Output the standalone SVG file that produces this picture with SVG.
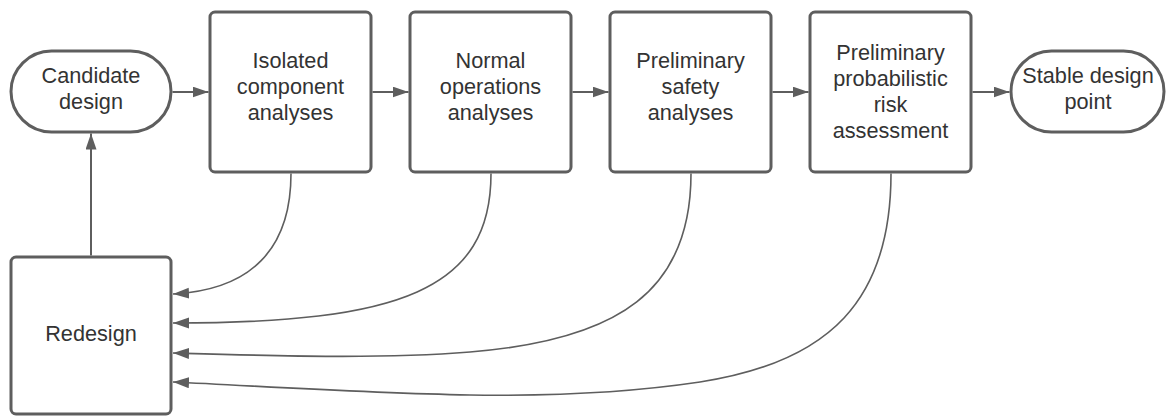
<svg xmlns="http://www.w3.org/2000/svg" width="1166" height="416" viewBox="0 0 1166 416">
  <style>
    .shape { fill: #ffffff; stroke: #5e5e5e; stroke-width: 3; }
    .label { font-family: "Liberation Sans", Arial, sans-serif; font-size: 21.7px; fill: #333333; text-anchor: middle; }
    .conn { fill: none; stroke: #5e5e5e; stroke-width: 2; }
    .curve { fill: none; stroke: #5e5e5e; stroke-width: 1.6; }
  </style>
  <defs>
    <marker id="arrow" markerUnits="userSpaceOnUse" markerWidth="17" markerHeight="12" refX="16" refY="5.5" orient="auto">
      <path d="M0,0 L16,5.5 L0,11 Z" fill="#5e5e5e"/>
    </marker>
  </defs>
  <rect width="1166" height="416" fill="#ffffff"/>

  <g id="connectors">
    <path class="conn" d="M172.5,92 L208.5,92" marker-end="url(#arrow)"/>
    <path class="conn" d="M372.5,92 L408.5,92" marker-end="url(#arrow)"/>
    <path class="conn" d="M572.5,92 L608.5,92" marker-end="url(#arrow)"/>
    <path class="conn" d="M772.5,92 L808.5,92" marker-end="url(#arrow)"/>
    <path class="conn" d="M972.5,92 L1009.5,92" marker-end="url(#arrow)"/>
    <path class="conn" d="M91,255.5 L91,133.5" marker-end="url(#arrow)"/>
    <path class="curve" d="M291,173.5 C291,250 250,290 173,294" marker-end="url(#arrow)"/>
    <path class="curve" d="M491,173.5 C491,290 400,323 173,323" marker-end="url(#arrow)"/>
    <path class="curve" d="M691,173.5 C691,290 620,340 470,352 C380,359.2 280,356 173,353" marker-end="url(#arrow)"/>
    <path class="curve" d="M891,173.5 C891,300 830,362 700,382 C620,394 540,396 470,395 C360,393 260,386 173,382" marker-end="url(#arrow)"/>
  </g>

  <g id="candidate-design">
    <rect class="shape" x="11" y="51" width="160" height="81" rx="40.5" ry="40.5"/>
    <text class="label" x="91" y="83">Candidate</text>
    <text class="label" x="91" y="109">design</text>
  </g>

  <g id="isolated-component-analyses">
    <rect class="shape" x="210" y="12" width="161" height="160" rx="5" ry="5"/>
    <text class="label" x="290.5" y="68">Isolated</text>
    <text class="label" x="290.5" y="94">component</text>
    <text class="label" x="290.5" y="120">analyses</text>
  </g>

  <g id="normal-operations-analyses">
    <rect class="shape" x="410" y="12" width="161" height="160" rx="5" ry="5"/>
    <text class="label" x="490.5" y="68">Normal</text>
    <text class="label" x="490.5" y="94">operations</text>
    <text class="label" x="490.5" y="120">analyses</text>
  </g>

  <g id="preliminary-safety-analyses">
    <rect class="shape" x="610" y="12" width="161" height="160" rx="5" ry="5"/>
    <text class="label" x="690.5" y="68">Preliminary</text>
    <text class="label" x="690.5" y="94">safety</text>
    <text class="label" x="690.5" y="120">analyses</text>
  </g>

  <g id="preliminary-pra">
    <rect class="shape" x="810" y="12" width="161" height="160" rx="5" ry="5"/>
    <text class="label" x="890.5" y="60">Preliminary</text>
    <text class="label" x="890.5" y="86">probabilistic</text>
    <text class="label" x="890.5" y="112">risk</text>
    <text class="label" x="890.5" y="138">assessment</text>
  </g>

  <g id="stable-design-point">
    <rect class="shape" x="1011" y="51" width="153" height="81" rx="40.5" ry="40.5"/>
    <text class="label" x="1088" y="83">Stable design</text>
    <text class="label" x="1088" y="109">point</text>
  </g>

  <g id="redesign">
    <rect class="shape" x="11" y="257" width="160" height="157" rx="5" ry="5"/>
    <text class="label" x="91" y="341">Redesign</text>
  </g>
</svg>
